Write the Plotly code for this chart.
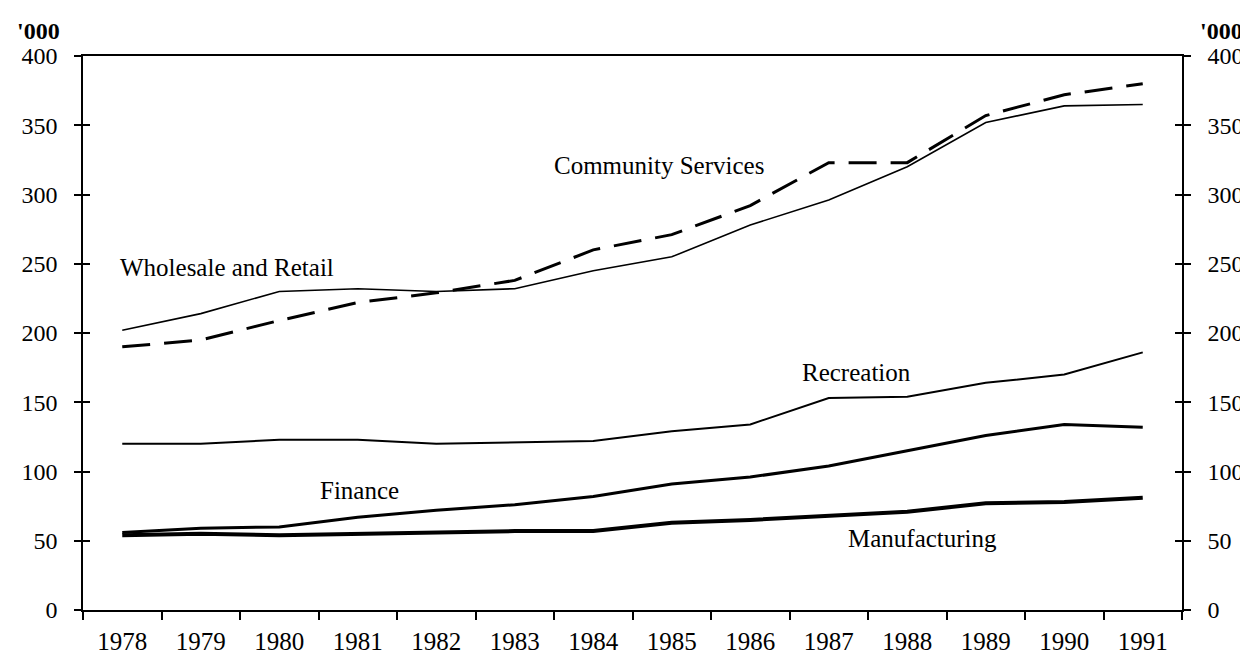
import plotly.graph_objects as go

years = ["1978", "1979", "1980", "1981", "1982", "1983", "1984",
         "1985", "1986", "1987", "1988", "1989", "1990", "1991"]
wholesale = [202, 214, 230, 232, 230, 232, 245, 255, 278, 296, 320, 352, 364, 365]
community = [190, 195, 209, 222, 229, 238, 260, 271, 292, 323, 323, 357, 372, 380]
recreation = [120, 120, 123, 123, 120, 121, 122, 129, 134, 153, 154, 164, 170, 186]
finance = [56, 59, 60, 67, 72, 76, 82, 91, 96, 104, 115, 126, 134, 132]
manufacturing = [54, 55, 54, 55, 56, 57, 57, 63, 65, 68, 71, 77, 78, 81]
y_ticks = [0, 50, 100, 150, 200, 250, 300, 350, 400]

# label name, x (category index), y (value)
labels = [
    ("Wholesale and Retail", 1.33, 247),
    ("Community Services", 6.84, 321),
    ("Recreation", 9.35, 171.5),
    ("Finance", 3.02, 86),
    ("Manufacturing", 10.19, 51.5),
]

FONT = "Liberation Serif, Times New Roman, serif"
BLACK = "#000000"

W, H = 1248, 658
ML, MR, MT, MB = 75, 74, 48, 56
PW = W - ML - MR
PH = H - MT - MB

fig = go.Figure()

fig.add_trace(go.Scatter(x=years, y=wholesale, mode="lines",
                         line=dict(color=BLACK, width=1.6), showlegend=False))
fig.add_trace(go.Scatter(x=years, y=community, mode="lines",
                         line=dict(color=BLACK, width=3, dash="28px,14px"), showlegend=False))
fig.add_trace(go.Scatter(x=years, y=recreation, mode="lines",
                         line=dict(color=BLACK, width=2), showlegend=False))
fig.add_trace(go.Scatter(x=years, y=finance, mode="lines",
                         line=dict(color=BLACK, width=3), showlegend=False))
fig.add_trace(go.Scatter(x=years, y=manufacturing, mode="lines",
                         line=dict(color=BLACK, width=4), showlegend=False))

# dummy traces so the extra (tick) axes are drawn
for ax in ["y2", "y3", "y4"]:
    fig.add_trace(go.Scatter(x=[years[0]], y=[None], yaxis=ax, mode="lines",
                             showlegend=False, hoverinfo="skip"))

for text, xi, yv in labels:
    fig.add_annotation(x=xi, y=yv, xref="x", yref="y", text=text, showarrow=False,
                       font=dict(family=FONT, size=25, color=BLACK),
                       xanchor="center", yanchor="middle")

for px in (30, 1213):
    fig.add_annotation(x=(px - ML) / PW, y=(H - MB - 23) / PH, xref="paper", yref="paper",
                       text="<b>'000</b>", showarrow=False,
                       font=dict(family=FONT, size=24, color=BLACK),
                       xanchor="center", yanchor="middle")

yax_common = dict(range=[0, 400], tickmode="array", tickvals=y_ticks,
                  showgrid=False, zeroline=False, ticklen=7, tickwidth=1.5,
                  tickcolor=BLACK, fixedrange=True, automargin=False)

fig.update_layout(
    width=W, height=H,
    margin=dict(l=ML, r=MR, t=MT, b=MB, autoexpand=False),
    paper_bgcolor="white", plot_bgcolor="white",
    font=dict(family=FONT, color=BLACK),
    xaxis=dict(type="category", range=[-0.5, 13.5], tickson="boundaries",
               ticks="outside", ticklen=8, tickwidth=1.5, tickcolor=BLACK,
               showline=True, linecolor=BLACK, linewidth=1.5, mirror=True,
               showgrid=False, zeroline=False, automargin=False,
               tickfont=dict(family=FONT, size=25, color=BLACK),
               ticklabelstandoff=8),
    yaxis=dict(**yax_common, side="left", ticks="outside", showline=True,
               linecolor=BLACK, linewidth=1.5,
               tickfont=dict(family=FONT, size=24, color=BLACK),
               ticklabelstandoff=12),
    yaxis3=dict(**yax_common, overlaying="y", side="left", ticks="inside",
                showline=False, showticklabels=False),
    yaxis2=dict(**yax_common, overlaying="y", side="right", ticks="outside",
                showline=True, linecolor=BLACK, linewidth=1.5,
                tickfont=dict(family=FONT, size=24, color=BLACK),
                ticklabelstandoff=12),
    yaxis4=dict(**yax_common, overlaying="y", side="right", ticks="inside",
                showline=False, showticklabels=False),
)

fig.write_html("out.html")
